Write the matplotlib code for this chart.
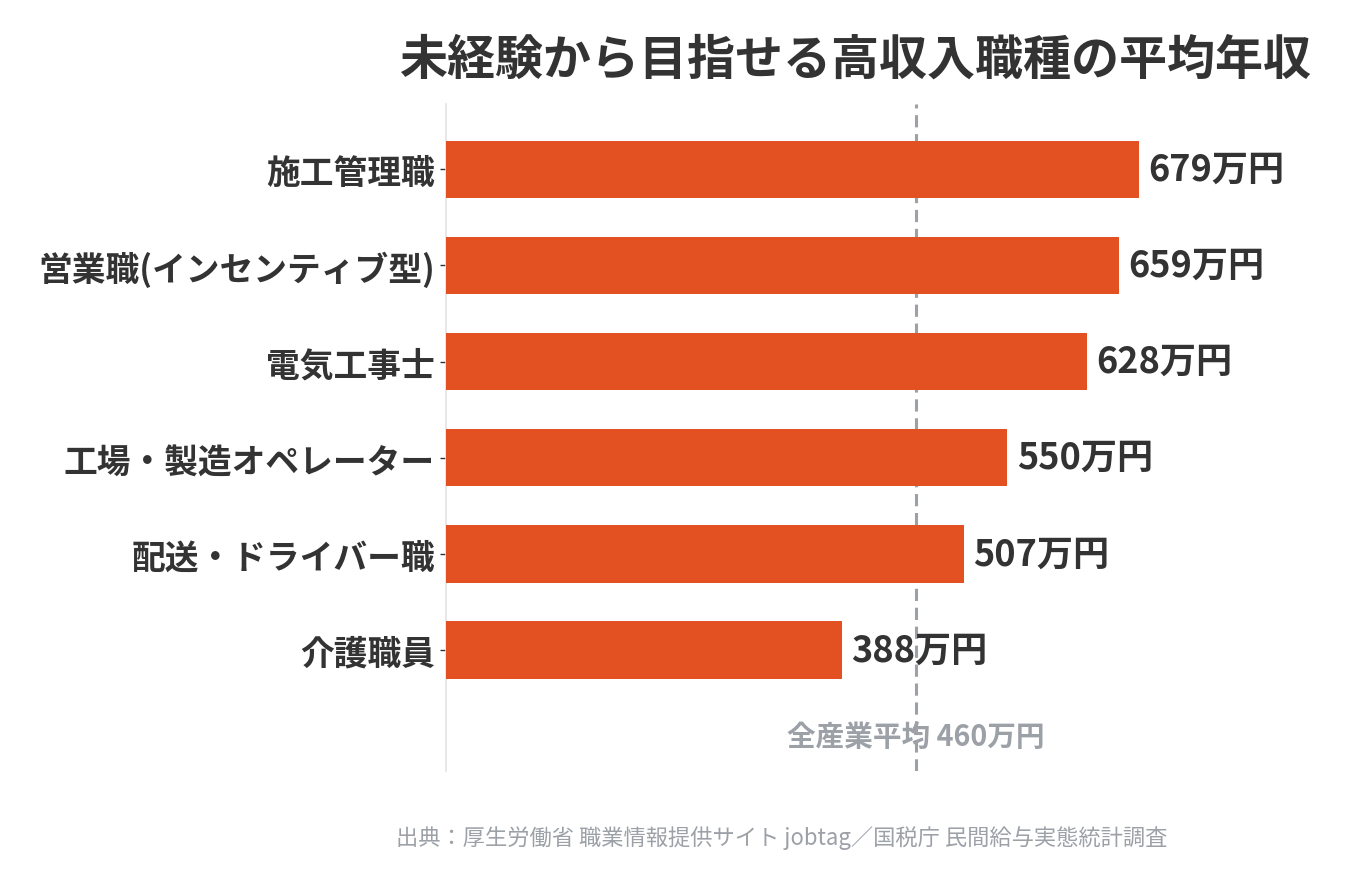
import matplotlib
matplotlib.use("Agg")
import matplotlib.pyplot as plt

plt.rcParams["font.family"] = ["Noto Sans CJK JP", "DejaVu Sans"]

# data
jobs = ["施工管理職", "営業職(インセンティブ型)", "電気工事士", "工場・製造オペレーター", "配送・ドライバー職", "介護職員"]
salaries = [679, 659, 628, 550, 507, 388]
industry_avg = 460
title = "未経験から目指せる高収入職種の平均年収"
avg_label = "全産業平均 460万円"
source = "出典：厚生労働省 職業情報提供サイト jobtag／国税庁 民間給与実態統計調査"

BAR = "#e35022"
TEXT = "#333333"
GRAY = "#9ca0a7"

fig = plt.figure(figsize=(13.46, 8.87), dpi=100)
ax = fig.add_axes([0.3314, 0.1297, 0.637, 0.7519])

ypos = list(range(len(jobs)))
ax.barh(ypos, salaries, height=0.6, color=BAR, zorder=3)
ax.set_ylim(len(jobs) - 1 + 1.26, -0.68)
ax.set_xlim(0, 840)

for y, v in zip(ypos, salaries):
    ax.text(v + 9, y, f"{v}万円", va="center", ha="left", fontsize=26,
            fontweight="bold", color=TEXT, zorder=4)

# bars hide the average line, but the line runs over its own label
ax.axvline(industry_avg, color=GRAY, linestyle=(0, (4, 2.2)), linewidth=2.2, zorder=2)
ax.text(industry_avg, 5.9, avg_label, ha="center", va="center", fontsize=20.6,
        fontweight="bold", color=GRAY, zorder=1)

ax.set_yticks(ypos)
ax.set_yticklabels(jobs, fontsize=24.3, fontweight="bold", color=TEXT)
ax.tick_params(axis="y", length=4, width=1, color=TEXT, pad=4)
ax.set_xticks([])
for side in ["top", "right", "bottom"]:
    ax.spines[side].set_visible(False)
ax.spines["left"].set_color("#e3e3e3")
ax.spines["left"].set_linewidth(1.2)

fig.text(855 / 1346, 1 - 60 / 887, title, ha="center", va="center", fontsize=34.6,
         fontweight="bold", color=TEXT)
fig.text(782 / 1346, 1 - 838 / 887, source, ha="center", va="center", fontsize=16,
         color=GRAY)

fig.savefig("out.png", dpi=100, facecolor="white")
